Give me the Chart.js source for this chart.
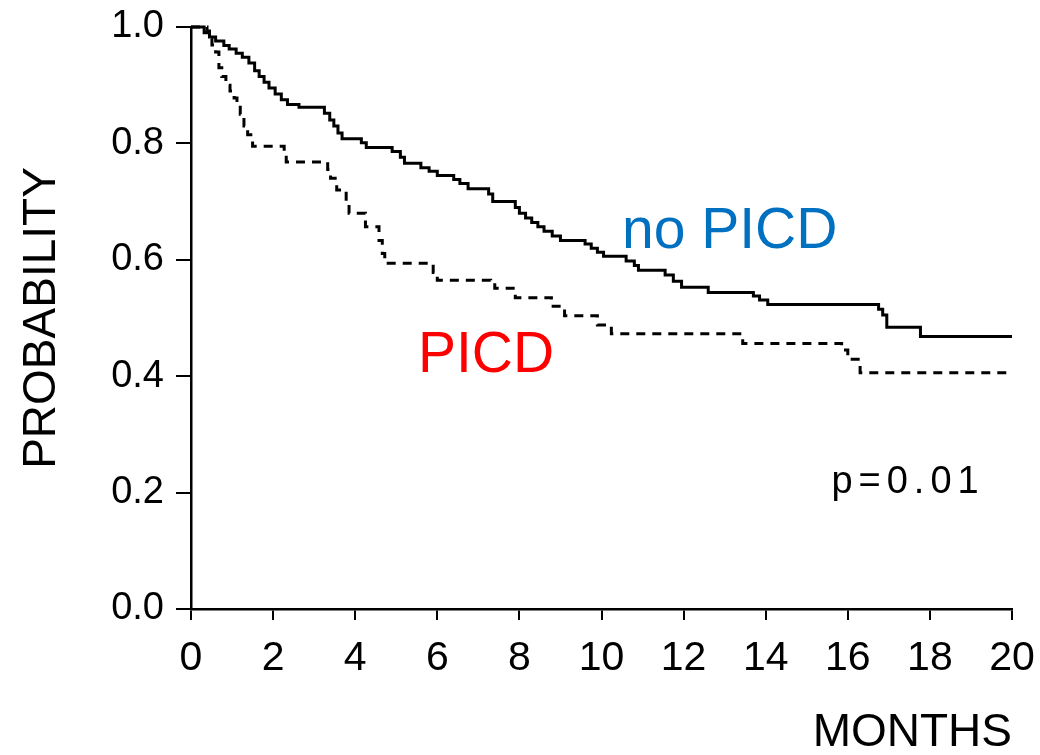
<!DOCTYPE html>
<html>
<head>
<meta charset="utf-8">
<script src="https://cdn.jsdelivr.net/npm/chart.js@4.4.1/dist/chart.umd.min.js"></script>
<style>
  html, body { margin: 0; padding: 0; background: #fff; }
  #grafica { display: block; }
</style>
</head>
<body>
<canvas id="grafica" width="1040" height="755"></canvas>
<script>
// ==============================
// Datos
// ==============================
const mesesNoPicd = [0, 0.32, 0.45, 0.6, 0.8, 0.93, 1.1, 1.25, 1.41, 1.55, 1.66, 1.78, 1.9, 2.05, 2.2, 2.35, 2.63,
  3.25, 3.38, 3.48, 3.58, 3.68, 4.15, 4.27, 4.9, 5.1, 5.2, 5.6, 5.8, 6.0, 6.4, 6.55, 6.75, 7.25, 7.35, 7.9,
  8.0, 8.15, 8.3, 8.45, 8.6, 8.8, 9.0, 9.6, 9.75, 9.9, 10.05, 10.6, 10.8, 10.9, 11.55, 11.75, 11.95, 12.6,
  13.7, 13.85, 14.05, 16.75, 16.85, 16.95, 17.77, 20];
const probNoPicd = [1.0, 0.99, 0.983, 0.976, 0.968, 0.962, 0.955, 0.948, 0.938, 0.925, 0.915, 0.905, 0.895, 0.885, 0.875, 0.867, 0.862,
  0.852, 0.84, 0.83, 0.818, 0.808, 0.801, 0.793, 0.786, 0.776, 0.766, 0.758, 0.752, 0.745, 0.738, 0.731, 0.722, 0.713, 0.700, 0.69,
  0.68, 0.672, 0.664, 0.657, 0.649, 0.641, 0.633, 0.627, 0.62, 0.613, 0.606, 0.598, 0.59, 0.582, 0.574, 0.563, 0.553, 0.544,
  0.538, 0.531, 0.523, 0.515, 0.505, 0.484, 0.468, 0.468];

const mesesPicd = [0, 0.39, 0.45, 0.51, 0.6, 0.68, 0.75, 0.85, 0.95, 1.05, 1.12, 1.2, 1.29, 1.38, 1.5, 2.27, 2.32,
  3.33, 3.4, 3.55, 3.78, 3.85, 4.25, 4.58, 4.66, 4.72, 5.9, 6.0, 7.3, 7.4, 7.9, 8.78, 9.1, 9.9, 10.24,
  13.44, 15.85, 16.0, 16.3, 20];
const probPicd = [1.0, 0.993, 0.98, 0.969, 0.957, 0.93, 0.915, 0.9, 0.89, 0.878, 0.865, 0.85, 0.83, 0.815, 0.795, 0.785, 0.768,
  0.755, 0.74, 0.72, 0.695, 0.68, 0.657, 0.633, 0.611, 0.594, 0.578, 0.565, 0.56, 0.551, 0.535, 0.52, 0.504, 0.488, 0.473,
  0.456, 0.445, 0.429, 0.406, 0.406];

const rangoX = [0, 20];
const pasoX = 2;
const rangoY = [0, 1];
const pasoY = 0.2;

// etiquetas dentro del grafico: [texto, mes, probabilidad, color]
const etiquetas = [
  ["no PICD", 10.5, 0.62, "#0070C0"],
  ["PICD", 5.53, 0.407, "#FF0000"]
];
const textoP = ["p=0.01", 15.6, 0.199];

const FUENTE = "'Liberation Sans', Arial, Helvetica, sans-serif";

// sin relleno automatico de las escalas, el area del grafico la fija layout.padding
const sinRelleno = s => {
  s.paddingTop = 0;
  s.paddingBottom = 0;
  s.paddingLeft = 0;
  s.paddingRight = 0;
};

// ==============================
// Plugin de textos
// ==============================
const textos = {
  id: "textos",
  afterDatasetsDraw(chart) {
    const { ctx, scales: { x, y } } = chart;
    ctx.save();
    ctx.textAlign = "left";
    ctx.textBaseline = "alphabetic";
    ctx.font = "57px " + FUENTE;
    etiquetas.forEach(([t, mx, py, c]) => {
      ctx.fillStyle = c;
      ctx.fillText(t, x.getPixelForValue(mx), y.getPixelForValue(py));
    });
    ctx.fillStyle = "#000";
    ctx.font = "38px " + FUENTE;
    ctx.letterSpacing = "6px";
    ctx.fillText(textoP[0], x.getPixelForValue(textoP[1]), y.getPixelForValue(textoP[2]));
    ctx.restore();
  }
};

// ==============================
// Grafica
// ==============================
const ctx = document.getElementById("grafica").getContext("2d");
const grafica = new Chart(ctx, {
  type: "line",
  data: {
    datasets: [
      {
        label: "no PICD",
        data: mesesNoPicd.map((m, i) => ({ x: m, y: probNoPicd[i] })),
        borderColor: "#000",
        borderWidth: 3,
        stepped: true,
        pointRadius: 0,
        fill: false,
        clip: false
      },
      {
        label: "PICD",
        data: mesesPicd.map((m, i) => ({ x: m, y: probPicd[i] })),
        borderColor: "#000",
        borderWidth: 3,
        borderDash: [9, 7],
        stepped: true,
        pointRadius: 0,
        fill: false,
        clip: false
      }
    ]
  },
  options: {
    responsive: false,
    animation: false,
    layout: { padding: { top: 27, right: 28, left: 0, bottom: 0 } },
    plugins: { legend: { display: false }, tooltip: { enabled: false } },
    scales: {
      x: {
        type: "linear",
        min: rangoX[0],
        max: rangoX[1],
        afterFit: s => { s.height = 146; sinRelleno(s); },
        ticks: {
          stepSize: pasoX,
          color: "#000",
          padding: 14,
          maxRotation: 0,
          font: { family: FUENTE, size: 41 }
        },
        grid: { drawOnChartArea: false, drawTicks: true, tickLength: 11, color: "#000", lineWidth: 2 },
        border: { display: true, color: "#000", width: 2.5 },
        title: {
          display: true,
          text: "MONTHS",
          align: "end",
          color: "#000",
          font: { family: FUENTE, size: 46 },
          padding: { top: 0, bottom: -6 }
        }
      },
      y: {
        min: rangoY[0],
        max: rangoY[1],
        afterFit: s => { s.width = 191; sinRelleno(s); },
        ticks: {
          stepSize: pasoY,
          color: "#000",
          padding: 12,
          font: { family: FUENTE, size: 38 },
          callback: v => v.toFixed(1)
        },
        grid: { drawOnChartArea: false, drawTicks: true, tickLength: 15, color: "#000", lineWidth: 2 },
        border: { display: true, color: "#000", width: 2.5 },
        title: {
          display: true,
          text: "PROBABILITY",
          color: "#000",
          font: { family: FUENTE, size: 46 },
          padding: { top: 15, bottom: 0 }
        }
      }
    }
  },
  plugins: [textos]
});
</script>
</body>
</html>
